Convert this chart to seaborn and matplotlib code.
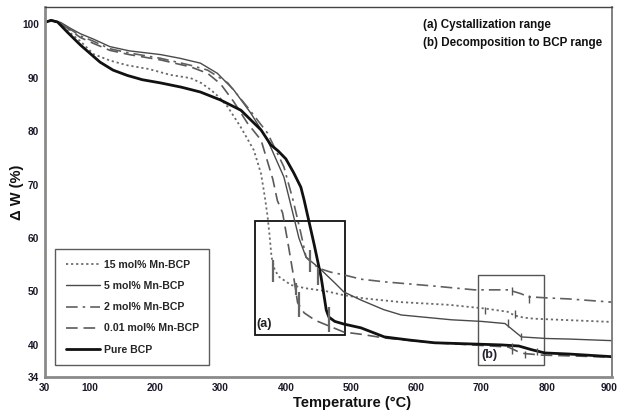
import matplotlib
matplotlib.use("Agg")
import matplotlib.pyplot as plt
import matplotlib.transforms as mtransforms
import seaborn as sns
import pandas as pd
from matplotlib.patches import Rectangle

# ---------------- data ----------------
series_names = ["15 mol% Mn-BCP", "5 mol% Mn-BCP", "2 mol% Mn-BCP",
                "0.01 mol% Mn-BCP", "Pure BCP"]

t_15 = [30, 40, 50, 65, 85, 105, 130, 157, 190, 223, 254, 270, 285, 298, 311,
        331, 351, 362, 368, 372, 375, 378, 383, 390, 408, 430, 460, 489, 520,
        577, 650, 706, 740, 751, 765, 781, 840, 900]
w_15 = [100.3, 100.6, 100.3, 98.8, 96.8, 94.4, 93.2, 92.3, 91.6, 90.5, 89.9,
        89.0, 87.7, 86.3, 84.5, 80.7, 76.4, 72.0, 67.5, 64.0, 60.5, 56.5, 54.0,
        52.7, 51.2, 50.6, 50.1, 49.3, 48.7, 48.0, 47.5, 46.8, 46.2, 45.5, 45.1,
        44.9, 44.6, 44.3]

t_5 = [30, 40, 55, 70, 85, 105, 130, 160, 208, 238, 269, 295, 320, 346, 372,
       397, 410, 420, 431, 451, 475, 489, 515, 550, 577, 654, 700, 736, 748,
       761, 800, 834, 900]
w_5 = [100.3, 100.8, 100.3, 99.2, 98.2, 97.2, 95.8, 95.0, 94.3, 93.6, 92.7,
       90.8, 87.7, 83.4, 78.3, 71.4, 65.0, 60.0, 56.4, 54.4, 51.6, 49.9, 48.4,
       46.6, 45.6, 44.7, 44.4, 44.0, 42.8, 41.5, 41.2, 41.1, 40.8]

t_2 = [30, 40, 55, 70, 85, 105, 130, 160, 208, 254, 280, 311, 341, 372, 397,
       411, 423, 431, 443, 454, 469, 489, 515, 551, 628, 689, 741, 760, 772,
       800, 834, 900]
w_2 = [100.3, 100.7, 100.2, 99.0, 97.8, 96.8, 95.4, 94.6, 93.6, 92.3, 91.4,
       89.0, 84.5, 79.6, 73.3, 67.1, 60.9, 56.4, 55.0, 54.2, 53.6, 53.1, 52.3,
       51.8, 51.0, 50.3, 50.3, 49.6, 49.0, 48.8, 48.6, 48.0]

t_001 = [30, 40, 55, 70, 85, 105, 130, 160, 208, 254, 280, 300, 320, 341, 362,
         380, 387, 395, 404, 412, 418, 428, 445, 469, 489, 515, 551, 628, 700,
         741, 755, 765, 792, 850, 900]
w_001 = [100.3, 100.7, 100.1, 98.8, 97.5, 96.4, 95.1, 94.3, 93.3, 92.0, 90.8,
         88.8, 85.5, 81.5, 78.3, 71.0, 67.0, 64.7, 58.5, 52.7, 47.9, 46.0, 44.6,
         43.4, 42.4, 42.0, 41.3, 40.4, 39.9, 39.6, 38.8, 38.4, 38.1, 37.9, 37.7]

t_pure = [30, 40, 50, 65, 85, 100, 115, 135, 157, 180, 208, 240, 269, 300, 331,
          362, 377, 388, 400, 412, 423, 428, 443, 454, 462, 466, 475, 489, 515,
          551, 590, 628, 680, 731, 757, 777, 797, 834, 900]
w_pure = [100.3, 100.7, 100.4, 98.5, 96.1, 94.5, 92.9, 91.4, 90.4, 89.6, 89.0,
          88.2, 87.3, 85.8, 83.9, 80.2, 77.4, 76.3, 74.8, 72.2, 69.5, 67.1, 59.0,
          52.7, 46.5, 45.2, 44.4, 43.9, 43.2, 41.5, 40.9, 40.4, 40.2, 40.0, 39.8,
          39.1, 38.5, 38.3, 37.8]

# onset tick marks in box (a): temperature, low and high W
a_tick_t = [381, 415, 420, 437, 449, 466]
a_tick_lo = [51.8, 49.3, 45.2, 53.6, 51.2, 42.4]
a_tick_hi = [55.9, 51.6, 49.9, 57.8, 54.4, 47.1]
# onset tick marks in box (b)
b_tick_t = [746, 772, 706, 751, 741, 761, 746, 766, 785]
b_tick_lo = [49.3, 47.9, 45.8, 45.0, 43.4, 40.9, 38.3, 37.6, 38.1]
b_tick_hi = [50.8, 49.3, 47.1, 46.5, 44.8, 42.2, 40.4, 38.9, 39.4]

x_ticks = [30, 100, 200, 300, 400, 500, 600, 700, 800, 900]
y_ticks = [34, 40, 50, 60, 70, 80, 90, 100]

notes = ["(a) Cystallization range", "(b) Decomposition to BCP range"]

# ---------------- plotting ----------------
sns.set_style("white")
FONT = ["Liberation Sans", "DejaVu Sans"]
plt.rcParams["font.family"] = FONT
plt.rcParams["font.weight"] = "bold"

fig = plt.figure(figsize=(6.19, 4.17), dpi=100)
ax = fig.add_axes([0.0719, 0.0959, 0.9168, 0.8873])

all_t = [t_15, t_5, t_2, t_001, t_pure]
all_w = [w_15, w_5, w_2, w_001, w_pure]
styles = [
    dict(color="#6a6a6a", lw=1.3, linestyle=(0, (1.2, 1.6))),
    dict(color="#4a4a4a", lw=1.0, linestyle="-"),
    dict(color="#606060", lw=1.2, linestyle=(0, (7, 3, 1.5, 3))),
    dict(color="#5a5a5a", lw=1.2, linestyle=(0, (7, 3.5))),
    dict(color="#111111", lw=2.0, linestyle="-"),
]
for name, t, w, st in zip(series_names, all_t, all_w, styles):
    df = pd.DataFrame({"T": t, "W": w})
    sns.lineplot(data=df, x="T", y="W", ax=ax, sort=False, estimator=None,
                 label=name, **st)

# onset ticks
ax.vlines(a_tick_t, a_tick_lo, a_tick_hi, colors="#666666", lw=1.6)
ax.vlines(b_tick_t, b_tick_lo, b_tick_hi, colors="#555555", lw=1.0)

# boxes
ax.add_patch(Rectangle((352, 41.9), 490.8 - 352, 63.2 - 41.9, fill=False,
                       edgecolor="#111111", lw=1.3, zorder=1))
ax.add_patch(Rectangle((695, 36.3), 796 - 695, 53.1 - 36.3, fill=False,
                       edgecolor="#555555", lw=1.0, zorder=1))
ax.text(355, 42.7, "(a)", fontsize=9, fontweight="bold", color="#222222",
        ha="left", va="bottom")
ax.text(699, 37.0, "(b)", fontsize=9, fontweight="bold", color="#222233",
        ha="left", va="bottom")

# notes
ax.text(0.667, 0.952, notes[0], transform=ax.transAxes, fontsize=8.4,
        fontweight="bold", color="#111111", ha="left", va="center")
ax.text(0.667, 0.903, notes[1], transform=ax.transAxes, fontsize=8.4,
        fontweight="bold", color="#111111", ha="left", va="center")

ax.set_xlim(30, 900)
ax.set_ylim(34, 103.2)
ax.set_xticks(x_ticks)
ax.set_xticklabels([str(v) for v in x_ticks])
ax.set_yticks(y_ticks)
ax.set_yticklabels([str(v) for v in y_ticks])
ax.tick_params(axis="both", length=0, labelsize=7.3, labelcolor="#1a1a2a",
               pad=4)
for lab in ax.get_xticklabels() + ax.get_yticklabels():
    lab.set_fontweight("bold")
# keep the last x tick label inside the canvas
last = ax.get_xticklabels()[-1]
last.set_transform(last.get_transform() +
                   mtransforms.ScaledTranslation(-3 / 100, 0, fig.dpi_scale_trans))

ax.set_xlabel("Temperature (°C)", fontsize=10.5, fontweight="bold",
              color="#111111")
ax.xaxis.set_label_coords(0.542, -0.05)
ax.set_ylabel("Δ W (%)", fontsize=10.5, fontweight="bold", color="#111111")
ax.yaxis.set_label_coords(-0.036, 0.5)

for side in ["left", "bottom"]:
    ax.spines[side].set_color("#8a8a8a")
    ax.spines[side].set_linewidth(2.0)
ax.spines["top"].set_color("#444444")
ax.spines["top"].set_linewidth(1.0)
ax.spines["right"].set_color("#777777")
ax.spines["right"].set_linewidth(1.3)

leg = ax.legend(loc="lower left", bbox_to_anchor=(0.0185, 0.032),
                borderaxespad=0, frameon=True, fancybox=False,
                edgecolor="#333333", handlelength=3.3,
                handletextpad=0.3, labelspacing=1.06, borderpad=1.0,
                prop={"weight": "bold", "size": 7.6, "family": FONT})
leg.get_frame().set_linewidth(1.0)

fig.savefig("out.png", dpi=100)
